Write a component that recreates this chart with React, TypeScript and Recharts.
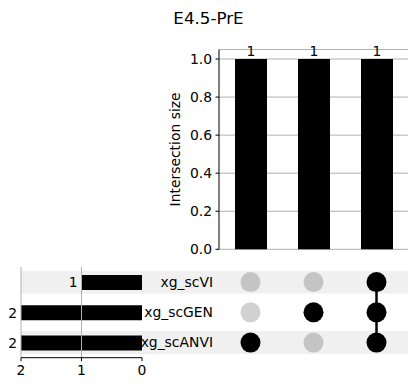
import React from 'react'
import {
  BarChart, Bar, XAxis, YAxis, CartesianGrid, LabelList, ReferenceLine,
  ScatterChart, Scatter, ReferenceArea,
} from 'recharts'

const W = 417
const H = 391
const FONT = 'DejaVu Sans'
const FS = 13.9

// sets (rows of the matrix, top to bottom) and their sizes
const sets = ['xg_scVI', 'xg_scGEN', 'xg_scANVI']
const setSizes = [1, 2, 2]

// intersections (columns), their sizes and members
const intersectionNames = ['xg_scANVI', 'xg_scGEN', 'xg_scVI&xg_scGEN&xg_scANVI']
const intersectionSizes = [1, 1, 1]
const intersectionMembers = [
  ['xg_scANVI'],
  ['xg_scGEN'],
  ['xg_scVI', 'xg_scGEN', 'xg_scANVI'],
]
const sizeTicks = [0, 0.2, 0.4, 0.6, 0.8, 1.0]
const setSizeTicks = [0, 1, 2]

const topData = intersectionNames.map((name, i) => ({ name, size: intersectionSizes[i] }))
const setData = sets.map((name, i) => ({ name, size: setSizes[i] }))

const inactiveDots = intersectionMembers.flatMap((members, col) =>
  sets.filter((s) => !members.includes(s)).map((s) => ({ col, row: sets.indexOf(s) })),
)
const activeDots = intersectionMembers.map((members, col) =>
  members.map((s) => ({ col, row: sets.indexOf(s) })).sort((a, b) => a.row - b.row),
)

const layer: React.CSSProperties = { position: 'absolute', left: 0, top: 0 }

const dot = (fill: string, opacity = 1) => (p: any) => (
  <circle cx={p.cx} cy={p.cy} r={10} fill={fill} fillOpacity={opacity} />
)

const SetLabel = (p: any) => (
  <text x={p.x} y={p.y} dy="0.35em" textAnchor="end" fill="#000" fontSize={FS}>
    {p.payload.value}
  </text>
)

const LeftValue = (p: any) => {
  const left = Math.min(p.x, p.x + p.width)
  return (
    <text x={left - 4} y={p.y + p.height / 2} dy="0.35em" textAnchor="end" fill="#000" fontSize={FS}>
      {p.value}
    </text>
  )
}

export default function App() {
  return (
    <div style={{ position: 'absolute', left: 0, top: 0, width: W, height: H, background: '#fff', fontFamily: FONT }}>
      {/* matrix with shaded rows */}
      <div style={layer}>
        <ScatterChart width={W} height={H} margin={{ top: 267, right: 9, bottom: 33.3, left: 21 }}>
          <XAxis type="number" dataKey="col" domain={[-3.643, 2.5]} allowDataOverflow hide />
          <YAxis type="number" dataKey="row" domain={[-0.5, 2.5]} allowDataOverflow reversed hide />
          {sets.map((s, i) =>
            i % 2 === 0 ? (
              <ReferenceArea key={s} x1={-3.643} x2={2.5} y1={i - 0.38} y2={i + 0.38} fill="#f0f0f0" fillOpacity={1} stroke="none" />
            ) : null,
          )}
          <Scatter data={inactiveDots} shape={dot('#000', 0.18)} isAnimationActive={false} />
          {activeDots.map((d, i) => (
            <Scatter
              key={i}
              data={d}
              line={{ stroke: '#000', strokeWidth: 2.5 }}
              shape={dot('#000')}
              isAnimationActive={false}
            />
          ))}
        </ScatterChart>
      </div>

      {/* set sizes, bars to the left */}
      <div style={layer}>
        <BarChart
          layout="vertical"
          width={W}
          height={H}
          data={setData}
          margin={{ top: 267, right: 204, bottom: 3.3, left: 21 }}
        >
          <XAxis
            type="number"
            domain={[0, 2]}
            reversed
            ticks={setSizeTicks}
            height={30}
            tickSize={3.5}
            tickMargin={3.5}
            axisLine={{ stroke: '#000' }}
            tickLine={{ stroke: '#000' }}
            tick={{ fill: '#000', fontSize: FS }}
          />
          <YAxis
            type="category"
            dataKey="name"
            orientation="right"
            width={71}
            axisLine={false}
            tickLine={false}
            tickSize={0}
            tickMargin={71}
            tick={<SetLabel />}
          />
          <ReferenceLine x={1} stroke="#b0b0b0" />
          <ReferenceLine x={2} stroke="#b0b0b0" />
          <Bar dataKey="size" fill="#000" barSize={15} isAnimationActive={false}>
            <LabelList dataKey="size" content={<LeftValue />} />
          </Bar>
        </BarChart>
      </div>

      {/* intersection sizes */}
      <div style={layer}>
        <BarChart width={W} height={H} data={topData} margin={{ top: 49.5, right: 9, bottom: 141.7, left: 159 }}>
          <CartesianGrid vertical={false} stroke="#b0b0b0" />
          <XAxis type="category" dataKey="name" hide />
          <YAxis
            type="number"
            domain={[0, 1.05]}
            ticks={sizeTicks}
            width={60}
            tickFormatter={(v: number) => v.toFixed(1)}
            tickSize={3.5}
            tickMargin={3.5}
            axisLine={{ stroke: '#000' }}
            tickLine={{ stroke: '#000' }}
            tick={{ fill: '#000', fontSize: FS }}
            label={{ value: 'Intersection size', angle: -90, position: 'insideLeft', offset: 16, fill: '#000', fontSize: FS, style: { textAnchor: 'middle' } }}
          />
          <Bar dataKey="size" fill="#000" barSize={32} isAnimationActive={false}>
            <LabelList dataKey="size" position="top" fill="#000" fontSize={FS} offset={3} />
          </Bar>
        </BarChart>
      </div>

      <div style={{ position: 'absolute', left: 0, top: 7, width: W, textAlign: 'center', fontSize: 16.7, lineHeight: '22px', color: '#000' }}>
        E4.5-PrE
      </div>
    </div>
  )
}
